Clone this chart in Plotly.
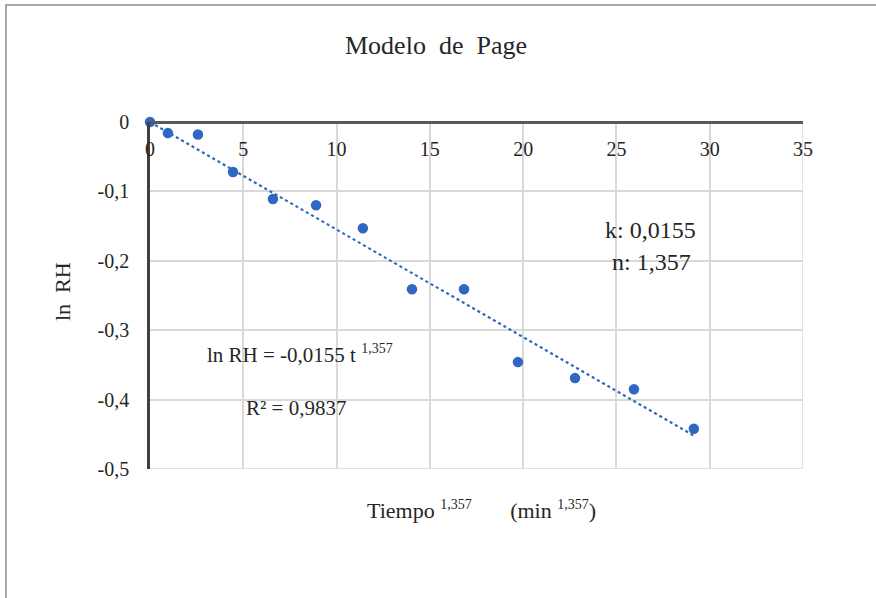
import plotly.graph_objects as go

# Page model: ln RH against t^n
tiempo_n = [0, 0.96, 2.57, 4.45, 6.59, 8.9, 11.41, 14.04, 16.83, 19.72, 22.78, 25.94, 29.15]
ln_rh = [0, -0.016, -0.018, -0.072, -0.111, -0.120, -0.153, -0.241, -0.241, -0.346, -0.369, -0.385, -0.442]

k = 0.0155
n = 1.357
r2 = 0.9837

x_ticks = [0, 5, 10, 15, 20, 25, 30, 35]
y_ticks = [0, -0.1, -0.2, -0.3, -0.4, -0.5]
y_ticktext = ["0", "-0,1", "-0,2", "-0,3", "-0,4", "-0,5"]

W, H = 876, 598
ML, MR, MT, MB = 150, 73, 122, 129
PW, PH = W - ML - MR, H - MT - MB


def px(x):
    return (x - ML) / PW


def py(y):
    return (H - MB - y) / PH


def comma(s):
    return s.replace(".", ",")


NB = "\u00a0"
FONT = "Liberation Serif"
BLUE = "#2f68c0"
TXT = "#262626"
GRID = "#d9d9d9"

fig = go.Figure()

# fitted line ln RH = -k * t^n through the origin
x_end = max(tiempo_n)
fig.add_trace(go.Scatter(
    x=[0, x_end], y=[0, -k * x_end], mode="lines",
    line=dict(color=BLUE, width=2.2, dash="dot"),
    hoverinfo="skip", showlegend=False, cliponaxis=False,
))

fig.add_trace(go.Scatter(
    x=tiempo_n, y=ln_rh, mode="markers",
    marker=dict(color=BLUE, size=10.5),
    showlegend=False, cliponaxis=False,
))

sup = lambda s: f"<sup><span style='font-size:14px'>{s}</span></sup>"

fig.update_layout(
    width=W, height=H,
    margin=dict(l=ML, r=MR, t=MT, b=MB),
    paper_bgcolor="white", plot_bgcolor="white",
    font=dict(family=FONT, color=TXT, size=20),
    xaxis=dict(
        range=[0, 35], tickvals=x_ticks, ticktext=[str(v) for v in x_ticks],
        anchor="free", position=1, side="bottom",
        ticks="", ticklabelstandoff=8,
        showgrid=True, gridcolor=GRID, gridwidth=1.5,
        showline=True, linecolor="#595959", linewidth=2.5,
        zeroline=False, tickfont=dict(size=20, family=FONT, color=TXT),
    ),
    yaxis=dict(
        range=[-0.5, 0], tickvals=y_ticks, ticktext=y_ticktext,
        ticks="", ticklabelstandoff=14,
        showgrid=True, gridcolor=GRID, gridwidth=1.5,
        showline=True, linecolor="#404040", linewidth=2.5,
        zeroline=False, tickfont=dict(size=20, family=FONT, color=TXT),
    ),
    shapes=[
        # chart frame
        dict(type="rect", xref="paper", yref="paper",
             x0=px(6), y0=py(H + 20), x1=px(W + 20), y1=py(5),
             line=dict(color="#8c8c8c", width=1.5), layer="below"),
        # outer gridlines at the far edges of the plot
        dict(type="line", xref="x", yref="y", x0=35, x1=35, y0=-0.5, y1=0,
             line=dict(color=GRID, width=1.5), layer="below"),
        dict(type="line", xref="x", yref="y", x0=0, x1=35, y0=-0.5, y1=-0.5,
             line=dict(color=GRID, width=1.5), layer="below"),
    ],
    annotations=[
        dict(text=f"Modelo{NB}{NB}de{NB}{NB}Page", xref="paper", yref="paper",
             x=px(436), y=py(45), xanchor="center", yanchor="middle", showarrow=False,
             font=dict(size=26, family=FONT, color=TXT)),
        dict(text=f"ln{NB}{NB}RH", xref="paper", yref="paper", textangle=-90,
             x=px(62), y=py(292), xanchor="center", yanchor="middle", showarrow=False,
             font=dict(size=22, family=FONT, color=TXT)),
        dict(text=f"Tiempo{NB}{sup('1,357')}{NB * 7}(min{NB}{sup('1,357')})",
             xref="paper", yref="paper", x=px(481), y=py(510),
             xanchor="center", yanchor="middle", showarrow=False,
             font=dict(size=22, family=FONT, color=TXT)),
        dict(text=comma(f"ln RH = -{k:.4f} t{NB}") + sup(comma(f"{n:.3f}")),
             xref="x", yref="y", x=8.05, y=-0.335, xanchor="center", yanchor="middle",
             showarrow=False, font=dict(size=21, family=FONT, color=TXT)),
        dict(text=comma(f"R² = {r2:.4f}"),
             xref="x", yref="y", x=7.8, y=-0.412, xanchor="center", yanchor="middle",
             showarrow=False, font=dict(size=21, family=FONT, color=TXT)),
        dict(text=comma(f"k: {k:.4f}"),
             xref="x", yref="y", x=26.85, y=-0.156, xanchor="center", yanchor="middle",
             showarrow=False, font=dict(size=24, family=FONT, color=TXT)),
        dict(text=comma(f"n: {n:.3f}"),
             xref="x", yref="y", x=26.9, y=-0.202, xanchor="center", yanchor="middle",
             showarrow=False, font=dict(size=24, family=FONT, color=TXT)),
    ],
)

fig.write_html("out.html")
